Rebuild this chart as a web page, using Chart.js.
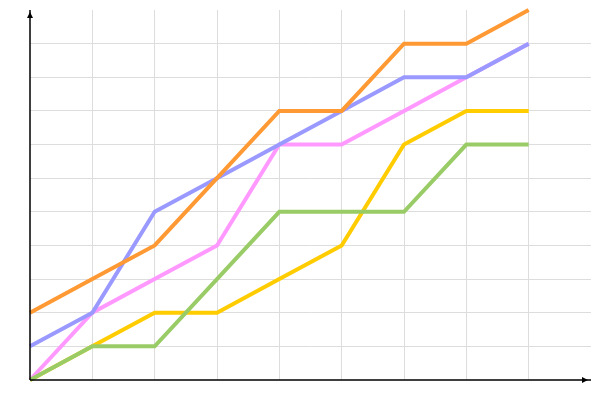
<!DOCTYPE html>
<html>
<head>
<meta charset="utf-8">
<script src="https://cdn.jsdelivr.net/npm/chart.js@4"></script>
<style>
  html, body { margin: 0; padding: 0; background: #fff; }
  #wrap { width: 600px; height: 400px; }
</style>
</head>
<body>
<div id="wrap"><canvas id="chart"></canvas></div>
<script>
const xSteps = [0, 1, 2, 3, 4, 5, 6, 7, 8];
const orange = [2, 3, 4, 6, 8, 8, 10, 10, 11];
const blue = [1, 2, 5, 6, 7, 8, 9, 9, 10];
const green = [0, 1, 1, 3, 5, 5, 5, 7, 7];
const pink = [0, 2, 3, 4, 7, 7, 8, 9, 10];
const yellow = [0, 1, 2, 2, 3, 4, 7, 8, 8];

const xMax = 9;
const yMax = 11;

function toPoints(vals) {
  return vals.map((v, i) => ({ x: xSteps[i], y: v }));
}

function series(vals, color) {
  return {
    data: toPoints(vals),
    borderColor: color,
    borderWidth: 4,
    pointRadius: 0,
    fill: false,
    tension: 0,
    clip: false,
  };
}

// axes with small arrow heads
const arrowAxes = {
  id: "arrowAxes",
  afterDraw(chart) {
    const { ctx, chartArea } = chart;
    const x0 = chart.scales.x.getPixelForValue(0);
    const y0 = chart.scales.y.getPixelForValue(0);
    ctx.save();
    ctx.strokeStyle = "#000";
    ctx.fillStyle = "#000";
    ctx.lineWidth = 1.5;
    ctx.beginPath();
    ctx.moveTo(x0, y0);
    ctx.lineTo(chartArea.right, y0);
    ctx.moveTo(x0, y0);
    ctx.lineTo(x0, chartArea.top);
    ctx.stroke();
    // x arrow
    const ax = chartArea.right - 3;
    ctx.beginPath();
    ctx.moveTo(ax, y0);
    ctx.lineTo(ax - 6, y0 - 3);
    ctx.lineTo(ax - 6, y0 + 3);
    ctx.closePath();
    ctx.fill();
    // y arrow
    const ay = chartArea.top + 2;
    ctx.beginPath();
    ctx.moveTo(x0, ay);
    ctx.lineTo(x0 - 3, ay + 6);
    ctx.lineTo(x0 + 3, ay + 6);
    ctx.closePath();
    ctx.fill();
    ctx.restore();
  },
};

function gridColor(max) {
  return (c) => (c.tick.value <= 0 || c.tick.value >= max ? "rgba(0,0,0,0)" : "#dddddd");
}

new Chart(document.getElementById("chart"), {
  type: "line",
  data: {
    datasets: [
      series(orange, "#ff9933"),
      series(blue, "#9999ff"),
      series(green, "#99cc66"),
      series(pink, "#ff99ff"),
      series(yellow, "#ffcc00"),
    ],
  },
  options: {
    responsive: true,
    maintainAspectRatio: false,
    animation: false,
    layout: { padding: { left: 30, right: 9, top: 10, bottom: 20 } },
    plugins: { legend: { display: false }, tooltip: { enabled: false } },
    scales: {
      x: {
        type: "linear",
        min: 0,
        max: xMax,
        ticks: { display: false, stepSize: 1 },
        grid: { color: gridColor(xMax), drawTicks: false },
        border: { display: false },
      },
      y: {
        min: 0,
        max: yMax,
        ticks: { display: false, stepSize: 1 },
        grid: { color: gridColor(yMax), drawTicks: false },
        border: { display: false },
      },
    },
  },
  plugins: [arrowAxes],
});
</script>
</body>
</html>
